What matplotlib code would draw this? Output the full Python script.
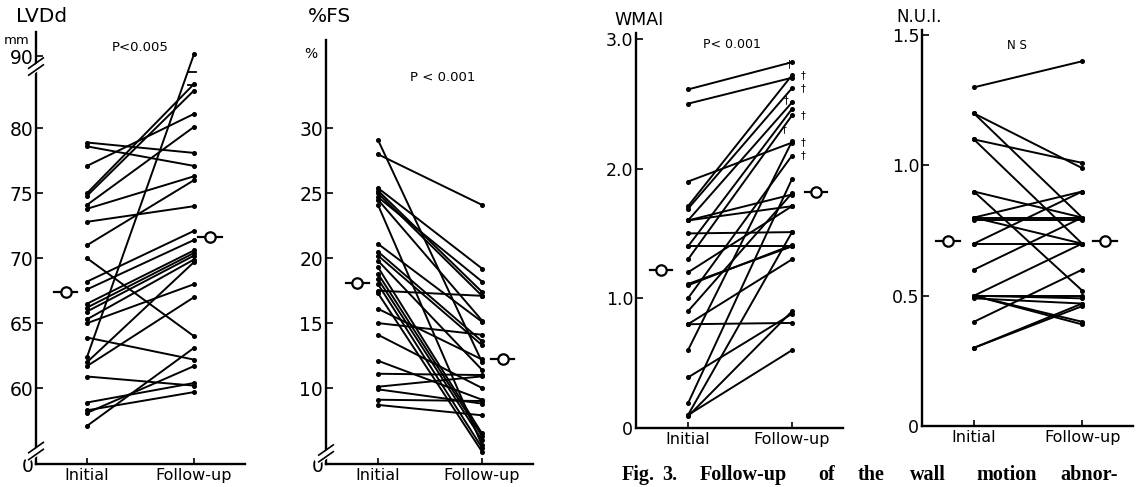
import numpy as np
import matplotlib
matplotlib.use('Agg')
from matplotlib import pyplot as plt

plt.rcParams['font.family'] = ['DejaVu Sans']

X_LABELS = ['Initial', 'Follow-up']

# LVDd (mm), pairs initial -> follow-up; 90 means off scale
lv_init = [78.9, 78.6, 77.1, 75.0, 74.8, 74.1, 73.8, 72.8, 71.0, 70.0, 68.2, 67.6, 66.5,
           66.2, 65.9, 65.3, 65.0, 63.9, 62.4, 62.0, 61.7, 60.9, 58.9, 58.3, 58.1, 57.1]
lv_fu = [78.1, 77.1, 81.1, 83.4, 82.9, 80.1, 76.3, 74.0, 76.0, 64.0, 72.1, 71.4, 70.6,
         70.4, 70.2, 69.9, 68.0, 62.2, 90.0, 69.7, 67.0, 60.2, 60.4, 59.7, 61.7, 63.1]
lv_mean = [67.4, 71.6]

# %FS
fs_init = [29.1, 28.0, 25.4, 25.2, 25.0, 24.7, 24.5, 24.1, 21.1, 20.5, 20.2, 19.8, 19.3, 18.8,
           18.4, 18.0, 17.5, 17.3, 16.1, 15.0, 14.1, 12.1, 11.1, 10.1, 9.9, 9.1, 8.7]
fs_fu = [12.0, 24.1, 19.2, 17.4, 17.1, 18.2, 15.2, 5.6, 15.1, 13.6, 13.3, 11.4, 6.5, 6.3,
         6.0, 5.4, 17.1, 5.1, 12.2, 14.1, 10.0, 9.1, 11.0, 10.9, 8.8, 9.0, 7.9]
fs_mean = [18.1, 12.2]

# WMAI
wm_init = [2.61, 2.50, 1.90, 1.71, 1.69, 1.60, 1.60, 1.60, 1.50, 1.40, 1.40, 1.30, 1.20,
           1.11, 1.10, 1.00, 0.90, 0.80, 0.80, 0.60, 0.39, 0.19, 0.10, 0.09, 0.10]
wm_fu = [2.82, 2.70, 2.20, 2.72, 2.62, 2.51, 1.80, 1.71, 1.51, 2.46, 1.40, 2.41, 1.71,
         1.40, 1.41, 2.10, 1.81, 1.30, 0.81, 2.21, 0.88, 1.92, 1.51, 0.90, 0.60]
wm_mean = [1.22, 1.82]
wm_dagger = [2.72, 2.70, 2.62, 2.46, 2.41, 2.24, 2.20, 2.10]
dagger_off = [(-2, 8), (8, 2), (8, 0), (-4, 6), (8, 0), (-6, 6), (8, 0), (8, 0)]

# N.U.I.
nu_init = [1.30, 1.20, 1.20, 1.10, 1.10, 0.90, 0.90, 0.80, 0.80, 0.80, 0.79, 0.70, 0.70,
           0.60, 0.50, 0.50, 0.50, 0.50, 0.50, 0.49, 0.40, 0.30, 0.30]
nu_fu = [1.40, 0.99, 0.80, 1.01, 0.70, 0.80, 0.52, 0.90, 0.80, 0.70, 0.79, 0.90, 0.70,
         0.80, 0.70, 0.50, 0.49, 0.40, 0.39, 0.47, 0.60, 0.46, 0.47]
nu_mean = [0.71, 0.71]

W, H = 1141, 487
fig = plt.figure(figsize=(W / 100, H / 100), dpi=100)


def make_ax(left, right, top, bottom):
    # pixel box -> figure fraction
    return fig.add_axes([left / W, (H - bottom) / H, (right - left) / W, (bottom - top) / H])


def ftext(x, y, s, **kw):
    # text placed in figure pixels (from top-left)
    fig.text(x / W, (H - y) / H, s, **kw)


def style(ax, xlim, ylim, ticks, labels, fs):
    ax.set_xlim(*xlim)
    ax.set_ylim(*ylim)
    for s in ['top', 'right']:
        ax.spines[s].set_visible(False)
    for s in ['left', 'bottom']:
        ax.spines[s].set_linewidth(1.7)
    ax.set_xticks([0, 1])
    ax.set_xticklabels(X_LABELS, fontsize=11.5)
    ax.set_yticks(ticks)
    ax.set_yticklabels(labels, fontsize=fs)
    ax.tick_params(axis='x', direction='in', length=4, width=1.2, pad=3)
    ax.tick_params(axis='y', direction='in', length=5, width=1.2, pad=2)
    ax.patch.set_alpha(0)


def pairs(ax, a, b, yfun=lambda v: v):
    for v0, v1 in zip(a, b):
        ax.plot([0, 1], [yfun(v0), yfun(v1)], color='black', lw=1.4, marker='o', ms=2.6,
                clip_on=False, solid_capstyle='round')


def mean_mark(ax, xs, means, half=0.11):
    for x, m in zip(xs, means):
        ax.plot([x - half, x + half], [m, m], color='black', lw=1.6)
        ax.plot(x, m, marker='o', ms=7.5, mfc='white', mec='black', mew=1.6)


def axis_break(ax, yfrac, dx=0.035, dy=0.012):
    ax.plot([-dx, dx], [yfrac - dy - 0.004, yfrac + dy - 0.004], transform=ax.transAxes,
            color='white', lw=5, clip_on=False, zorder=5)
    for off in (-0.008, 0.008):
        ax.plot([-dx, dx], [yfrac - dy + off, yfrac + dy + off], transform=ax.transAxes,
                color='black', lw=1.2, clip_on=False, zorder=6)


# Panel 1: LVDd
LV_BOTTOM, LV_TOP_TICK = 54.17, 85.54
ax1 = make_ax(36, 245, 32, 464)
lv_pos = lambda v: LV_TOP_TICK + 0.15 if v >= 90 else v
pairs(ax1, lv_init, lv_fu, lv_pos)
mean_mark(ax1, [-0.2, 1.15], lv_mean)
style(ax1, (-0.477, 1.477), (LV_BOTTOM, 87.4),
      [LV_BOTTOM, 60, 65, 70, 75, 80, LV_TOP_TICK], ['0', '60', '65', '70', '75', '80', '90'], 13.5)
axis_break(ax1, 0.92)
axis_break(ax1, 0.03)
# break sign on the off-scale line
for yb in (83.3, 84.3):
    ax1.plot([0.94, 1.02], [yb, yb], color='black', lw=1.3)
ax1.text(0.5, 86.2, 'P<0.005', fontsize=9.5, ha='center', va='center')
ftext(16, 17, 'LVDd', fontsize=14.5, ha='left', va='center')
ftext(4, 40, 'mm', fontsize=9.5, ha='left', va='center')

# Panel 2: %FS
FS_BOTTOM = 4.15
ax2 = make_ax(326, 533, 40, 464)
pairs(ax2, fs_init, fs_fu)
mean_mark(ax2, [-0.2, 1.2], fs_mean)
style(ax2, (-0.5, 1.49), (FS_BOTTOM, 36.8),
      [FS_BOTTOM, 10, 15, 20, 25, 30], ['0', '10', '15', '20', '25', '30'], 13.5)
axis_break(ax2, 0.025)
ax2.text(0.62, 33.9, 'P < 0.001', fontsize=9.5, ha='center', va='center')
ftext(308, 17, '%FS', fontsize=14.5, ha='left', va='center')
ftext(304, 54, '%', fontsize=10, ha='left', va='center')

# Panel 3: WMAI
ax3 = make_ax(636, 843, 33, 428)
pairs(ax3, wm_init, wm_fu)
mean_mark(ax3, [-0.26, 1.23], wm_mean)
for v, off in zip(wm_dagger, dagger_off):
    ax3.annotate('†', (1, v), xytext=off, textcoords='offset points', fontsize=7,
                 ha='center', va='center')
style(ax3, (-0.5, 1.49), (0, 3.045), [0, 1, 2, 3], ['0', '1.0', '2.0', '3.0'], 12.5)
ax3.text(0.42, 2.96, 'P< 0.001', fontsize=9, ha='center', va='center')
ftext(614, 20, 'WMAI', fontsize=12.5, ha='left', va='center')

# Panel 4: N.U.I.
ax4 = make_ax(922, 1133, 30, 426)
pairs(ax4, nu_init, nu_fu)
mean_mark(ax4, [-0.24, 1.21], nu_mean)
style(ax4, (-0.48, 1.47), (0, 1.52), [0, 0.5, 1.0, 1.5], ['0', '0.5', '1.0', '1.5'], 12.5)
ax4.text(0.4, 1.46, 'N S', fontsize=8.5, ha='center', va='center')
ftext(896, 17, 'N.U.I.', fontsize=12, ha='left', va='center')

# caption (justified words, as in the scan)
cap_words = ['Fig.', '3.', 'Follow-up', 'of', 'the', 'wall', 'motion', 'abnor-']
cap_x = [622, 662, 700, 818, 858, 910, 976, 1060]
for wtxt, xp in zip(cap_words, cap_x):
    ftext(xp, 475, wtxt, fontsize=14.5, fontweight='bold', family='Liberation Serif',
          ha='left', va='center')

fig.savefig('out.png', dpi=100)
